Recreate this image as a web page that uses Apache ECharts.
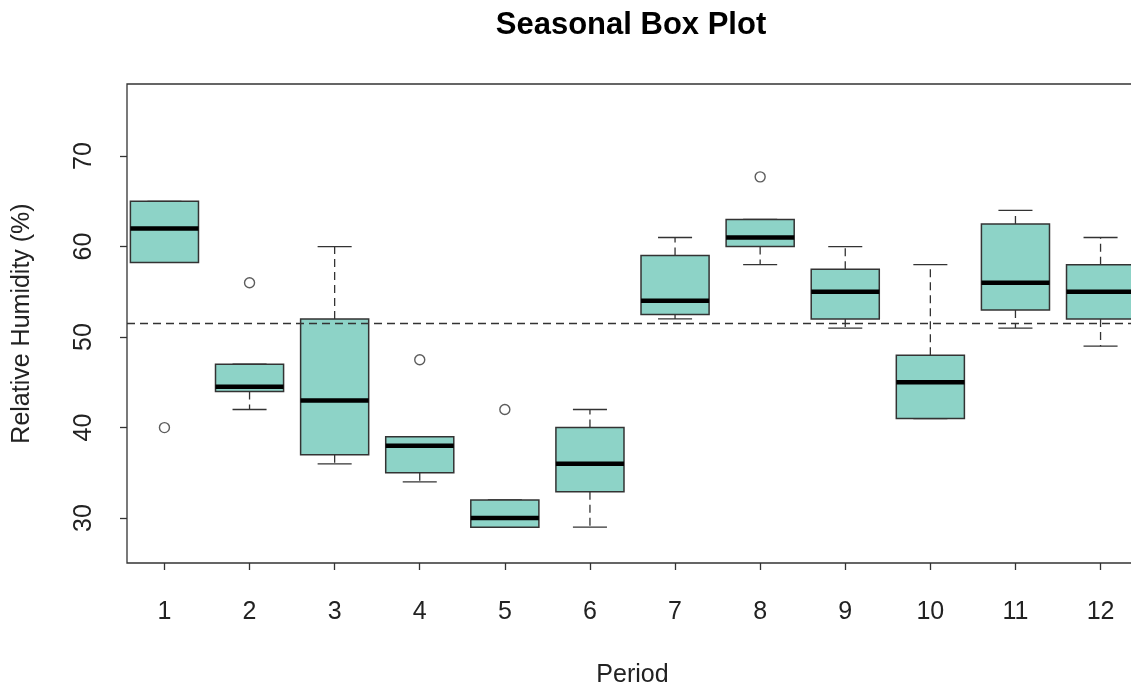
<!DOCTYPE html>
<html>
<head>
<meta charset="utf-8">
<script src="https://cdn.jsdelivr.net/npm/echarts@6/dist/echarts.min.js"></script>
<style>html,body{margin:0;padding:0;background:#fff}#c{width:1131px;height:691px}</style>
</head>
<body>
<div id="c"></div>
<script>
const periods     = [1, 2, 3, 4, 5, 6, 7, 8, 9, 10, 11, 12];
const whiskerLow  = [58.25, 42, 36, 34, 29, 29, 52, 58, 51, 41, 51, 49];
const q1          = [58.25, 44, 37, 35, 29, 32.9, 52.5, 60, 52, 41, 53, 52];
const medians     = [62, 44.5, 43, 38, 30, 36, 54, 61, 55, 45, 56, 55];
const q3          = [65, 47, 52, 39, 32, 40, 59, 63, 57.5, 48, 62.5, 58];
const whiskerHigh = [65, 47, 60, 39, 32, 42, 61, 63, 60, 58, 64, 61];
const outliers    = [[1, 40], [2, 56], [4, 47.5], [5, 42], [8, 67.7]];
const overallMean = 51.5;
const yTicks = [30, 40, 50, 60, 70];
const xTicks = periods;

const FONT = "'Liberation Sans', Arial, Helvetica, sans-serif";
const boxData = periods.map((p, i) => [p, whiskerLow[i], q1[i], medians[i], q3[i], whiskerHigh[i]]);

function renderBox(params, api) {
  const x = api.value(0);
  const pLow = api.coord([x, api.value(1)]);
  const pQ1 = api.coord([x, api.value(2)]);
  const pMed = api.coord([x, api.value(3)]);
  const pQ3 = api.coord([x, api.value(4)]);
  const pHigh = api.coord([x, api.value(5)]);
  const w = api.size([0.8, 0])[0];
  const hw = w / 2, cw = w / 4;
  const cx = pMed[0];
  const dash = {stroke: '#333', lineWidth: 1.3, lineDash: [8, 5]};
  const solid = {stroke: '#333', lineWidth: 1.3};
  return {
    type: 'group',
    children: [
      {type: 'line', shape: {x1: cx, y1: pQ3[1], x2: cx, y2: pHigh[1]}, style: dash},
      {type: 'line', shape: {x1: cx, y1: pQ1[1], x2: cx, y2: pLow[1]}, style: dash},
      {type: 'line', shape: {x1: cx - cw, y1: pHigh[1], x2: cx + cw, y2: pHigh[1]}, style: solid},
      {type: 'line', shape: {x1: cx - cw, y1: pLow[1], x2: cx + cw, y2: pLow[1]}, style: solid},
      {type: 'rect', shape: {x: cx - hw, y: pQ3[1], width: w, height: pQ1[1] - pQ3[1]},
        style: {fill: '#8DD3C7', stroke: '#333', lineWidth: 1.5}},
      {type: 'line', shape: {x1: cx - hw, y1: pMed[1], x2: cx + hw, y2: pMed[1]},
        style: {stroke: '#000', lineWidth: 4.5}}
    ]
  };
}

const chart = echarts.init(document.getElementById('c'), null, {renderer: 'canvas'});
chart.setOption({
  animation: false,
  backgroundColor: '#fff',
  title: {
    text: 'Seasonal Box Plot',
    left: 626, top: 5, textAlign: 'center',
    textStyle: {fontFamily: FONT, fontSize: 31, fontWeight: 'bold', color: '#000'}
  },
  grid: {left: 127, top: 84, right: -7, bottom: 128, containLabel: false, outerBoundsMode: 'none',
    show: true, borderColor: '#333', borderWidth: 1.3, backgroundColor: 'transparent'},
  xAxis: {
    type: 'value', min: 0.56, max: 12.44,
    name: 'Period', nameLocation: 'middle', nameGap: 100,
    nameTextStyle: {fontFamily: FONT, fontSize: 25, color: '#222'},
    axisLine: {show: false},
    splitLine: {show: false},
    axisTick: {show: true, length: 7, lineStyle: {color: '#333', width: 1.3}, customValues: xTicks},
    axisLabel: {fontFamily: FONT, fontSize: 25, color: '#222', margin: 37, customValues: xTicks}
  },
  yAxis: {
    type: 'value', min: 25.04, max: 77.96,
    name: 'Relative Humidity (%)', nameLocation: 'middle', nameGap: 92, nameRotate: 90,
    nameTextStyle: {fontFamily: FONT, fontSize: 25, color: '#222'},
    axisLine: {show: false},
    splitLine: {show: false},
    axisTick: {show: true, length: 7, lineStyle: {color: '#333', width: 1.3}, customValues: yTicks},
    axisLabel: {fontFamily: FONT, fontSize: 25, color: '#222', margin: 30, rotate: 90, customValues: yTicks}
  },
  series: [
    {
      type: 'line', data: [], silent: true,
      markLine: {
        silent: true, symbol: 'none', label: {show: false},
        lineStyle: {color: '#333', width: 1.3, type: [8, 5]},
        data: [{yAxis: overallMean}]
      }
    },
    {
      type: 'custom', renderItem: renderBox, data: boxData,
      encode: {x: 0, y: [1, 2, 3, 4, 5]}, silent: true, z: 3
    },
    {
      type: 'scatter', data: outliers, symbol: 'circle', symbolSize: 10, z: 4,
      itemStyle: {color: '#fff', borderColor: '#333', borderWidth: 1.4}
    }
  ]
});
</script>
</body>
</html>
